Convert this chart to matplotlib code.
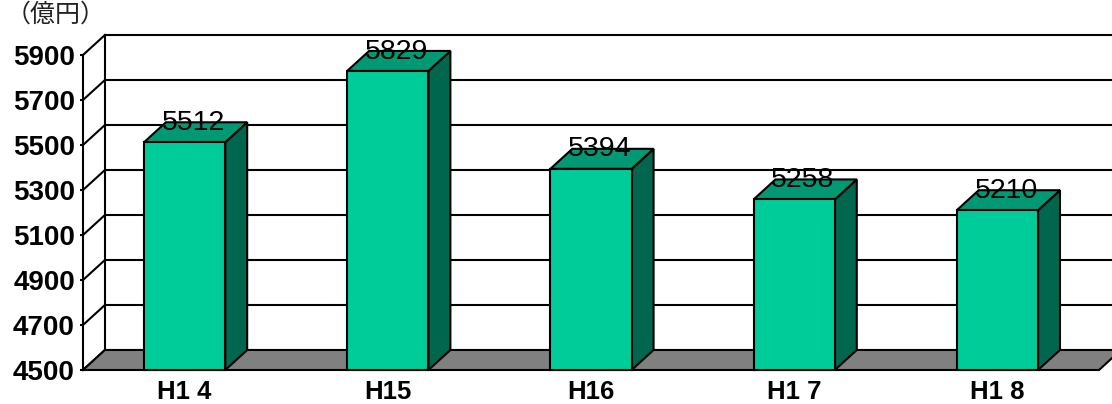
import matplotlib
matplotlib.use("Agg")
import matplotlib.pyplot as plt
from matplotlib.patches import Polygon

# 年度別の金額（億円）
years = ["H1 4", "H15", "H16", "H1 7", "H1 8"]
amounts = [5512, 5829, 5394, 5258, 5210]
yticks = [4500, 4700, 4900, 5100, 5300, 5500, 5700, 5900]

front_color = "#00CC99"
top_color = "#009973"
side_color = "#00664D"
floor_color = "#808080"

ymin, ymax = 4500, 5900
bar_w = 0.4
# oblique depth offset, in data units (x: categories, y: value)
DX = 0.108
DY = 89.0
lw = 1.5

fig = plt.figure(figsize=(11.12, 4.04), dpi=100)
W, H = 1112, 404
ax = fig.add_axes([83 / W, (H - 370) / H, 1016 / W, 315 / H])
ax.set_xlim(0, len(years))
ax.set_ylim(ymin, ymax)
for s in ax.spines.values():
    s.set_visible(False)

# back wall: gridlines, top edge and left edge
for v in yticks[1:]:
    ax.plot([DX, len(years) + DX], [v + DY, v + DY], color="black", lw=lw,
            clip_on=False, zorder=1, solid_capstyle="butt")
ax.plot([DX, DX], [ymin + DY, ymax + DY], color="black", lw=lw, clip_on=False, zorder=1)

# left wall: front axis line and the diagonals
ax.plot([0, 0], [ymin, ymax], color="black", lw=lw, clip_on=False, zorder=1)
for v in yticks:
    ax.plot([0, DX], [v, v + DY], color="black", lw=lw, clip_on=False, zorder=1)

# floor
floor = Polygon([(0, ymin), (len(years), ymin), (len(years) + DX, ymin + DY), (DX, ymin + DY)],
                closed=True, facecolor=floor_color, edgecolor="black", lw=lw,
                clip_on=False, zorder=2)
ax.add_patch(floor)

# bars: side, top, front faces
for i, v in enumerate(amounts):
    x0 = i + 0.5 - bar_w / 2
    x1 = i + 0.5 + bar_w / 2
    side = Polygon([(x1, ymin), (x1 + DX, ymin + DY), (x1 + DX, v + DY), (x1, v)],
                   closed=True, facecolor=side_color, edgecolor="black", lw=lw,
                   clip_on=False, zorder=3, joinstyle="miter")
    top = Polygon([(x0, v), (x1, v), (x1 + DX, v + DY), (x0 + DX, v + DY)],
                  closed=True, facecolor=top_color, edgecolor="black", lw=lw,
                  clip_on=False, zorder=3, joinstyle="miter")
    front = Polygon([(x0, ymin), (x1, ymin), (x1, v), (x0, v)],
                    closed=True, facecolor=front_color, edgecolor="black", lw=lw,
                    clip_on=False, zorder=4, joinstyle="miter")
    for p in (side, top, front):
        ax.add_patch(p)
    ax.text(i + 0.5 + DX * 0.4, v + 86, str(v), ha="center", va="center",
            fontsize=20.5, family="Liberation Sans",
            color="black", zorder=6, clip_on=False)

# category ticks on the floor front edge
ax.set_xticks([i + 0.5 for i in range(len(years))])
ax.set_xticklabels(years, fontsize=18.5, fontweight="bold", family="Liberation Sans")
ax.set_xticks(range(1, len(years) + 1), minor=True)
ax.tick_params(axis="x", which="major", length=0, pad=7)
ax.tick_params(axis="x", which="minor", direction="in", length=3.6, width=1.5)

ax.set_yticks(yticks)
ax.set_yticklabels([str(t) for t in yticks], fontsize=20, fontweight="bold",
                   family="Liberation Sans")
ax.tick_params(axis="y", direction="out", length=2.2, width=1.5, pad=3.6)

fig.text(6 / W, 1 - 2 / H, "（億円）", ha="left", va="top", fontsize=18,
         family=["Noto Sans CJK JP", "DejaVu Sans"], color="#222222")

fig.savefig("out.png", dpi=100)
